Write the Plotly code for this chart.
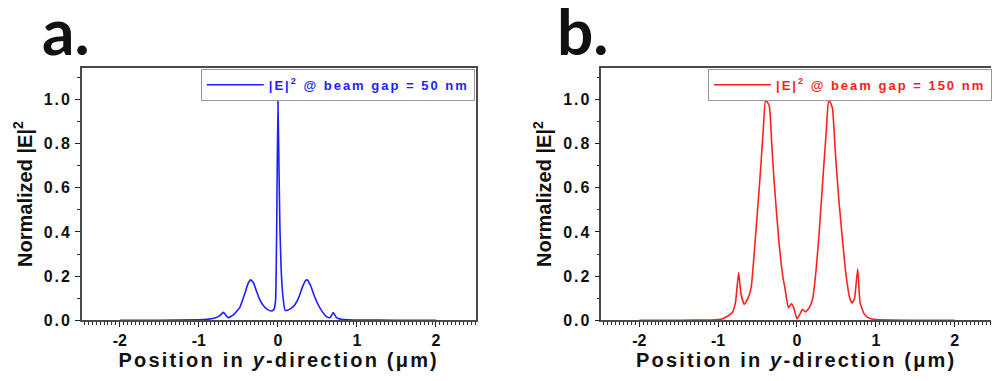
import plotly.graph_objects as go

# |E|^2 profile across the beam, gap = 50 nm
gap50_pos = [-2.0, -1.5, -1.0, -0.9, -0.8, -0.74, -0.69, -0.63, -0.56, -0.48, -0.42,
             -0.38, -0.345, -0.31, -0.27, -0.23, -0.18, -0.13, -0.08, -0.05, -0.03,
             -0.015, 0.0, 0.015, 0.025, 0.04, 0.06, 0.09, 0.12, 0.17, 0.21, 0.26,
             0.31, 0.345, 0.37, 0.41, 0.45, 0.49, 0.55, 0.62, 0.66, 0.70, 0.74,
             0.80, 0.9, 1.0, 1.5, 2.0]
gap50_int = [0.0, 0.0, 0.002, 0.004, 0.01, 0.02, 0.036, 0.012, 0.025, 0.06, 0.12,
             0.165, 0.183, 0.17, 0.13, 0.094, 0.065, 0.048, 0.042, 0.05, 0.09,
             0.45, 1.0, 0.65, 0.42, 0.24, 0.12, 0.045, 0.045, 0.055, 0.068, 0.1,
             0.15, 0.178, 0.183, 0.16, 0.12, 0.085, 0.045, 0.015, 0.012, 0.035, 0.012,
             0.004, 0.002, 0.001, 0.0, 0.0]

# |E|^2 profile across the beam, gap = 150 nm
gap150_pos = [-2.0, -1.5, -1.1, -1.0, -0.95, -0.88, -0.82, -0.78, -0.74, -0.71, -0.67,
              -0.62, -0.58, -0.53, -0.47, -0.43, -0.40, -0.38, -0.35, -0.32, -0.29,
              -0.23, -0.18, -0.15, -0.11, -0.07, -0.04, 0.0, 0.04, 0.07, 0.11, 0.16,
              0.2, 0.24, 0.28, 0.33, 0.37, 0.40, 0.42, 0.45, 0.49, 0.53, 0.56, 0.62,
              0.67, 0.70, 0.73, 0.77, 0.80, 0.85, 0.9, 1.0, 1.5, 2.0]
gap150_int = [0.0, 0.0, 0.001, 0.003, 0.006, 0.018, 0.035, 0.08, 0.216, 0.12, 0.072,
              0.1, 0.15, 0.36, 0.64, 0.85, 0.995, 0.99, 0.97, 0.8, 0.63,
              0.36, 0.2, 0.14, 0.057, 0.075, 0.055, 0.006, 0.03, 0.05, 0.038, 0.06,
              0.1, 0.22, 0.39, 0.65, 0.85, 0.99, 0.99, 0.96, 0.74, 0.55, 0.43, 0.21,
              0.1, 0.078, 0.1, 0.233, 0.08, 0.03, 0.012, 0.003, 0.0, 0.0]

x_tickvals = [-2, -1, 0, 1, 2]
x_ticktext = ["-2", "-1", "0", "1", "2"]
y_tickvals = [0.0, 0.2, 0.4, 0.6, 0.8, 1.0]
y_ticktext = ["0.0", "0.2", "0.4", "0.6", "0.8", "1.0"]

BLUE = "#1e1eff"
RED = "#ff2020"
FONT = "Liberation Sans, Arial, sans-serif"
W, H = 992, 381


def spaced(s, px):
    return f'<span style="letter-spacing:{px}px">{s}</span>'


fig = go.Figure()
fig.add_trace(go.Scatter(
    x=gap50_pos, y=gap50_int, mode="lines", xaxis="x", yaxis="y",
    line=dict(color=BLUE, width=1.6, shape="spline", smoothing=0.4),
    name=spaced("<b>|E|<sup>2</sup> @ beam gap = 50 nm</b>", 2), legend="legend",
))
fig.add_trace(go.Scatter(
    x=gap150_pos, y=gap150_int, mode="lines", xaxis="x2", yaxis="y2",
    line=dict(color=RED, width=1.6, shape="spline", smoothing=0.4),
    name=spaced("<b>|E|<sup>2</sup> @ beam gap = 150 nm</b>", 2), legend="legend2",
))

ydom = [1 - 328 / H, 1 - 69.5 / H]
x_title = spaced("<b>Position in <i>y</i>-direction (\u03bcm)</b>", 2.2)
y_title = "<b>Normalized |E|<sup>2</sup></b>"


def xaxis(domain, rng, anchor):
    return dict(
        domain=domain, range=rng, anchor=anchor,
        tickvals=x_tickvals, ticktext=[f"<b>{t}</b>" for t in x_ticktext],
        ticks="outside", ticklen=5, tickwidth=1.2, tickcolor="#222",
        minor=dict(dtick=0.05, tick0=0, ticks="outside", ticklen=3, tickcolor="#333"),
        showline=True, linecolor="#4a4a4a", linewidth=1.5, mirror=True,
        showgrid=False, zeroline=False,
        tickfont=dict(family=FONT, size=16, color="#111"),
        title=dict(text=x_title, font=dict(family=FONT, size=20, color="#111"), standoff=1),
    )


def yaxis(domain, anchor, mirror):
    return dict(
        domain=domain, range=[0, 1.144], anchor=anchor,
        tickvals=y_tickvals, ticktext=[spaced(f"<b>{t}</b>", 2) for t in y_ticktext],
        ticks="outside", ticklen=5, tickwidth=1.2, tickcolor="#222",
        minor=dict(dtick=0.1, tick0=0, ticks="outside", ticklen=3, tickcolor="#333"),
        showline=True, linecolor="#4a4a4a", linewidth=1.5, mirror=mirror,
        showgrid=False, zeroline=False,
        tickfont=dict(family=FONT, size=16, color="#111"),
        title=dict(text=y_title, font=dict(family=FONT, size=20, color="#111"), standoff=6),
    )


legend_common = dict(
    xanchor="left", yanchor="top", bgcolor="white", bordercolor="#999", borderwidth=1,
    itemwidth=57, tracegroupgap=0,
)

fig.update_layout(
    width=W, height=H, margin=dict(l=0, r=0, t=0, b=0),
    paper_bgcolor="white", plot_bgcolor="white",
    xaxis=xaxis([82 / W, 476 / W], [-2.48, 2.5], "y"),
    yaxis=yaxis(ydom, "x", True),
    xaxis2=xaxis([602 / W, 1.0], [-2.48, 2.46], "y2"),
    yaxis2=yaxis(ydom, "x2", False),
    legend=dict(x=201 / W, y=1 - 70.5 / H, font=dict(family=FONT, size=13, color=BLUE),
                **legend_common),
    legend2=dict(x=709 / W, y=1 - 70.5 / H, font=dict(family=FONT, size=13, color=RED),
                 **legend_common),
    showlegend=True,
    annotations=[
        dict(text="<b>a.</b>", x=40 / W, y=1 - 73 / H, xref="paper", yref="paper",
             xanchor="left", yanchor="bottom", showarrow=False,
             font=dict(family="Lato", size=64, color="#111")),
        dict(text="<b>b.</b>", x=556 / W, y=1 - 73 / H, xref="paper", yref="paper",
             xanchor="left", yanchor="bottom", showarrow=False,
             font=dict(family="Lato", size=64, color="#111")),
    ],
)

fig.write_html("out.html")
